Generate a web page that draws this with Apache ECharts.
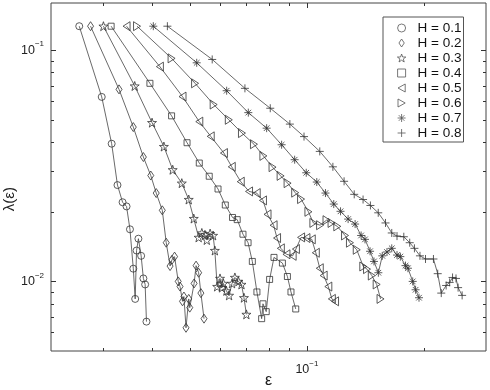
<!DOCTYPE html>
<html>
<head>
<meta charset="utf-8">
<script src="https://cdn.jsdelivr.net/npm/echarts@6/dist/echarts.min.js"></script>
<style>
html,body{margin:0;padding:0;background:#fff}
#chart{width:490px;height:390px}
</style>
</head>
<body>
<div id="chart"></div>
<script>
// series names (legend)
const names = ['H = 0.1','H = 0.2','H = 0.3','H = 0.4','H = 0.5','H = 0.6','H = 0.7','H = 0.8']

// epsilon / lambda(epsilon) for each H
const eps1 = [0.0260,0.0297,0.0315,0.0326,0.0336,0.0344,0.0351,0.0358,0.0362,0.0365,0.0369,0.0375,0.0380,0.0384,0.0387]
const lam1 = [0.127,0.0628,0.0394,0.0261,0.0220,0.0211,0.0168,0.01135,0.0084,0.0136,0.0153,0.0129,0.0103,0.0097,0.0067]

const eps2 = [0.0278,0.0329,0.0358,0.0380,0.0397,0.0410,0.0425,0.0435,0.0445,0.0450,0.0457,0.0467,0.0472,0.0479,0.0483,0.0489,0.0497,0.0500,0.0513,0.0519,0.0527,0.0534,0.0544]
const lam2 = [0.127,0.0677,0.0465,0.0345,0.0287,0.0241,0.0203,0.0147,0.01165,0.0124,0.0128,0.0100,0.0095,0.0082,0.0086,0.0063,0.0084,0.0077,0.0098,0.0117,0.0109,0.0089,0.0069]

const eps3 = [0.0300,0.0361,0.0400,0.0429,0.0452,0.0477,0.0497,0.0512,0.0527,0.0537,0.0547,0.0553,0.0564,0.0574,0.0580,0.0588,0.0598,0.0605,0.0610,0.0621,0.0631,0.0642,0.0653,0.0667,0.0679,0.0689,0.0699]
const lam3 = [0.127,0.0700,0.0486,0.0383,0.0304,0.0266,0.0226,0.0187,0.0155,0.0162,0.0159,0.0151,0.0161,0.0158,0.0136,0.0095,0.0103,0.0094,0.0098,0.0091,0.0087,0.0098,0.0104,0.0100,0.0097,0.0085,0.0072]

const eps4 = [0.0314,0.0395,0.0449,0.0492,0.0529,0.0561,0.0591,0.0617,0.0644,0.0662,0.0685,0.0706,0.0724,0.0744,0.0765,0.0771,0.0786,0.0802,0.0823,0.0865,0.0891,0.0910,0.0936]
const lam4 = [0.127,0.0719,0.0520,0.0398,0.0325,0.0285,0.0251,0.0214,0.0189,0.0185,0.0160,0.0147,0.0122,0.0090,0.0069,0.0080,0.0074,0.0102,0.0127,0.0120,0.0105,0.0090,0.0076]

const eps5 = [0.0344,0.0419,0.0479,0.0529,0.0566,0.0612,0.0641,0.0676,0.0710,0.0743,0.0771,0.0792,0.0821,0.0838,0.0857,0.0886,0.0919,0.0937,0.0966,0.0997,0.1029,0.1054,0.1079,0.1104,0.1135,0.1159,0.1181]
const lam5 = [0.127,0.0849,0.0630,0.0491,0.0424,0.0359,0.0313,0.0270,0.0245,0.0241,0.0224,0.0195,0.0175,0.0154,0.0139,0.0131,0.0129,0.0138,0.0155,0.0154,0.0152,0.0133,0.0114,0.0106,0.0095,0.0084,0.0082]

const eps6 = [0.0366,0.0449,0.0516,0.0576,0.0630,0.0681,0.0731,0.0773,0.0816,0.0856,0.0892,0.0933,0.0966,0.1009,0.1039,0.1081,0.1123,0.1157,0.1197,0.1253,0.1290,0.1343,0.1396,0.1427,0.1468,0.1511,0.1546]
const lam6 = [0.127,0.0922,0.0719,0.0582,0.0500,0.0438,0.0392,0.0349,0.0312,0.0286,0.0266,0.0242,0.0227,0.0200,0.0179,0.0175,0.0184,0.0179,0.0173,0.0158,0.0147,0.0137,0.0116,0.0113,0.0106,0.0097,0.0084]

const eps7 = [0.0403,0.0521,0.0622,0.0707,0.0788,0.0861,0.0930,0.0996,0.1060,0.1116,0.1172,0.1220,0.1276,0.1330,0.1378,0.1410,0.1453,0.1487,0.1526,0.1562,0.1606,0.1652,0.1704,0.1738,0.1792,0.1818,0.1870,0.1902,0.1941]
const lam7 = [0.127,0.0882,0.0668,0.0537,0.0460,0.0390,0.0336,0.0295,0.0269,0.0241,0.0216,0.0201,0.0186,0.0177,0.0158,0.0152,0.0135,0.0122,0.0109,0.0129,0.0134,0.0139,0.0130,0.0128,0.0117,0.0114,0.0100,0.0092,0.0085]

const eps8 = [0.0438,0.0571,0.0693,0.0805,0.0904,0.0983,0.1079,0.1166,0.1246,0.1323,0.1394,0.1456,0.1525,0.1592,0.1652,0.1704,0.1774,0.1837,0.1889,0.1952,0.2017,0.2114,0.2168,0.2214,0.2279,0.2327,0.2367,0.2416,0.2446,0.2505]
const lam8 = [0.127,0.0912,0.0684,0.0561,0.0479,0.0423,0.0365,0.0313,0.0271,0.0238,0.0226,0.0213,0.0198,0.0179,0.0162,0.0157,0.0156,0.0147,0.0139,0.0129,0.0125,0.0125,0.0108,0.0089,0.0096,0.0099,0.0104,0.0103,0.0094,0.0087]

// axis ticks
const xMajor = [0.1]
const xMinor = [0.03,0.04,0.05,0.06,0.07,0.08,0.09,0.2]
const yMajor = [0.01,0.1]
const yMinor = [0.006,0.007,0.008,0.009,0.02,0.03,0.04,0.05,0.06,0.07,0.08,0.09]

const allEps = [eps1,eps2,eps3,eps4,eps5,eps6,eps7,eps8]
const allLam = [lam1,lam2,lam3,lam4,lam5,lam6,lam7,lam8]

// marker shapes, like the matlab ones (paths so that the legend keeps their aspect)
const DIAMOND = 'path://M4,0L8,6L4,12L0,6Z'
const SQUARE = 'path://M0,0H10V10H0Z'
const STAR = 'path://M50,0L61.8,33.8L97.6,34.5L69,56.2L79.4,90.5L50,70L20.6,90.5L31,56.2L2.4,34.5L38.2,33.8Z'
const TRI_LEFT = 'path://M0,5L9,0L9,10Z'
const TRI_RIGHT = 'path://M9,5L0,0L0,10Z'
const ASTER = 'path://M5,0V10M0,5H10M1.5,1.5L8.5,8.5M8.5,1.5L1.5,8.5'
const PLUS = 'path://M5,0V10M0,5H10'
const symbols = ['circle',DIAMOND,STAR,SQUARE,TRI_LEFT,TRI_RIGHT,ASTER,PLUS]
const sizes = [7,[6,9],9,6,[7,9],[7,9],8,8]

const X_MIN = 0.022, X_MAX = 0.2885
const Y_MIN = 0.005, Y_MAX = 0.16
const FONT = 'Liberation Sans'

const chart = echarts.init(document.getElementById('chart'))

function powLabel(v){
    return '10{s|' + Math.round(Math.log10(v)).toString().replace('-', '\u2212') + '}'
}
const labelRich = {s:{fontSize:8, fontFamily:FONT, color:'#222', padding:[0,0,12,0]}}

function tickAxis(pos, min, max, values, len, withLabel){
    const ax = {
        type:'log', position:pos, min:min, max:max,
        axisLine:{show:false, onZero:false},
        splitLine:{show:false},
        axisTick:{show:true, inside:true, length:len, customValues:values, lineStyle:{color:'#333', width:1}},
        axisLabel:{show:false}
    }
    if (withLabel) {
        ax.axisLabel = {
            show:true, customValues:values, formatter:powLabel,
            fontSize:12.5, fontFamily:FONT, color:'#222', rich:labelRich,
            margin: (pos === 'bottom') ? 9 : 7
        }
    }
    return ax
}

const series = names.map((n,i)=>{
    return {
        name:n,
        type:'line',
        data:allEps[i].map((e,k)=>[e, allLam[i][k]]),
        symbol:symbols[i],
        symbolSize:sizes[i],
        symbolKeepAspect:false,
        showAllSymbol:true,
        lineStyle:{color:'#444', width:0.8},
        itemStyle:{color:'transparent', borderColor:'#333', borderWidth:0.8},
        emphasis:{disabled:true},
        xAxisIndex:0,
        yAxisIndex:0
    }
})

const option = {
    animation:false,
    backgroundColor:'#fff',
    grid:{
        left:51, right:4, top:3, bottom:39,
        show:true, borderColor:'#444', borderWidth:1,
        containLabel:false, outerBoundsMode:'none'
    },
    xAxis:[
        Object.assign(tickAxis('bottom', X_MIN, X_MAX, xMajor, 5, true), {
            name:'\u03b5', nameLocation:'middle', nameGap:22, nameMoveOverlap:false,
            nameTextStyle:{fontSize:16, fontFamily:FONT, color:'#222'}
        }),
        tickAxis('bottom', X_MIN, X_MAX, xMinor, 3, false),
        tickAxis('top', X_MIN, X_MAX, xMajor, 5, false),
        tickAxis('top', X_MIN, X_MAX, xMinor, 3, false)
    ],
    yAxis:[
        tickAxis('left', Y_MIN, Y_MAX, yMajor, 5, true),
        tickAxis('left', Y_MIN, Y_MAX, yMinor, 3, false),
        tickAxis('right', Y_MIN, Y_MAX, yMajor, 5, false),
        tickAxis('right', Y_MIN, Y_MAX, yMinor, 3, false)
    ],
    legend:{
        orient:'vertical',
        left:383, top:17,
        padding:[4,2,2,14],
        itemWidth:22, itemHeight:8, itemGap:1.0,
        symbolKeepAspect:true,
        borderColor:'#555', borderWidth:1,
        backgroundColor:'#fff',
        selectedMode:false,
        textStyle:{fontSize:13.5, fontFamily:FONT, color:'#111'},
        data:names.map((n,i)=>({
            name:n, icon:symbols[i],
            itemStyle:{color:'transparent', borderColor:'#555', borderWidth:0.8}
        }))
    },
    graphic:[{
        type:'text', left:2, top:187, rotation:Math.PI/2,
        style:{text:'\u03bb(\u03b5)', fontSize:15, fontFamily:FONT, fill:'#222'}
    }],
    series:series
}
chart.setOption(option)
</script>
</body>
</html>
